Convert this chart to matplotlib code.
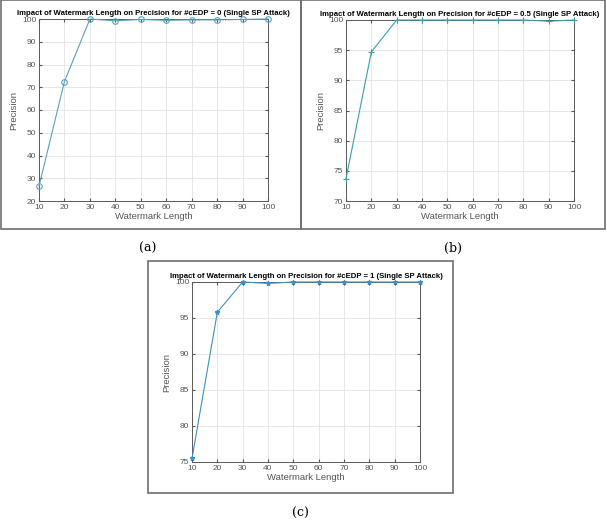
import matplotlib
matplotlib.use("Agg")
import matplotlib.pyplot as plt
from matplotlib.patches import Rectangle

# data
lengths = [10, 20, 30, 40, 50, 60, 70, 80, 90, 100]
prec_a = [26.5, 72.5, 100, 99.2, 99.8, 99.4, 99.6, 99.6, 99.8, 100]
prec_b = [73.7, 94.7, 100, 100, 100, 100, 100, 100, 99.8, 100]
prec_c = [75.5, 95.8, 100, 99.8, 100, 100, 100, 100, 100, 100]
cedp = ["0", "0.5", "1"]
captions = ["(a)", "(b)", "(c)"]

plt.rcParams["font.family"] = ["Liberation Sans", "DejaVu Sans"]

W, H = 607, 532
fig = plt.figure(figsize=(W / 100, H / 100), dpi=100)


def px_box(left, top, right, bottom):
    # pixel box (y from top) -> figure fraction rect
    return [left / W, 1 - bottom / H, (right - left) / W, (bottom - top) / H]


def frame(left, top, right, bottom):
    x, y, w, h = px_box(left, top, right, bottom)
    fig.patches.append(Rectangle((x, y), w, h, transform=fig.transFigure,
                                 fill=False, edgecolor="#6e6e6e", lw=1.2))


def panel(ax_box, values, marker, color, ylim, yticks, c):
    ax = fig.add_axes(px_box(*ax_box))
    ax.plot(lengths, values, marker=marker, color=color, lw=0.8,
            markersize=4 if marker != "*" else 3.5,
            mfc="none" if marker == "o" else color,
            markeredgewidth=0.8, clip_on=False, zorder=3)
    ax.set_xlim(10, 100)
    ax.set_ylim(*ylim)
    ax.set_xticks(lengths)
    ax.set_yticks(yticks)
    ax.grid(True, color="#e3e3e3", lw=0.6)
    ax.set_axisbelow(True)
    ax.tick_params(direction="in", labelsize=6, colors="#555555",
                   length=2, top=True, right=True, pad=2)
    for s in ax.spines.values():
        s.set_color("#5a5a5a")
        s.set_linewidth(0.7)
    ax.set_xlabel("Watermark Length", fontsize=6.8, color="#555555", labelpad=1)
    ax.set_ylabel("Precision", fontsize=6.8, color="#555555", labelpad=3)
    ax.set_title(f"Impact of Watermark Length on Precision for #cEDP = {c} (Single SP Attack)",
                 fontsize=5.6, fontweight="bold", pad=3)
    return ax


frame(1, 0, 301, 229)
frame(301, 0, 605, 229)
frame(148, 261, 453, 493)

panel((39, 19, 268, 201), prec_a, "o", "#5b9fb9", (20, 100),
      range(20, 101, 10), cedp[0])
panel((346, 20, 574, 201), prec_b, "+", "#3c9ea6", (70, 100),
      range(70, 101, 5), cedp[1])
panel((192, 282, 420, 462), prec_c, "*", "#3f8fc3", (75, 100),
      range(75, 101, 5), cedp[2])

cap_pos = [(148, 248), (453, 248), (300, 513)]
for (cx, cy), t in zip(cap_pos, captions):
    fig.text(cx / W, 1 - cy / H, t, ha="center", va="center",
             fontsize=9, family="DejaVu Serif")

fig.savefig("out.png", dpi=100)
